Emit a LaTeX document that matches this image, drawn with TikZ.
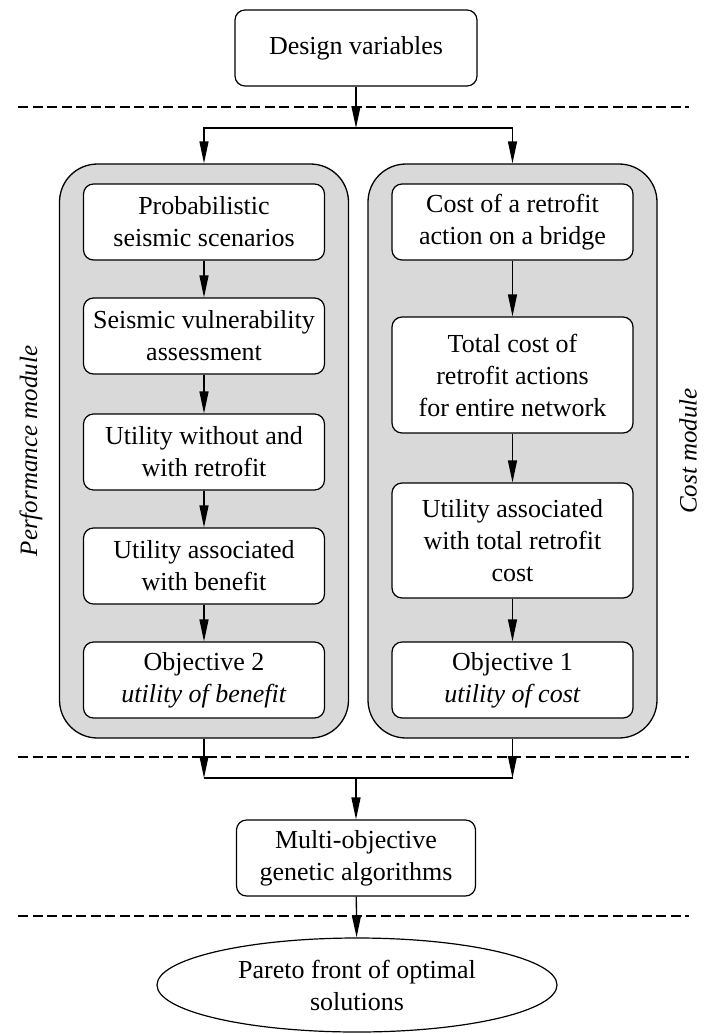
\documentclass[tikz,border=0pt]{standalone}
\usepackage{fontspec}
\setmainfont{Liberation Serif}
\usetikzlibrary{arrows.meta}
\usetikzlibrary{positioning,shapes.geometric}
\definecolor{modgray}{RGB}{217,217,217}

\begin{document}
\begin{tikzpicture}[
		x=1pt, y=-1pt,
		->,
		>={Triangle[length=22pt,width=9pt]},
		line width=1.3pt,
		font=\fontsize{26}{32}\selectfont,
		step box/.style={
			draw,
			fill=white,
			rounded corners=10pt,
			align=center,
			inner sep=0pt,
			line width=1.2pt,
			minimum width=241pt,
			minimum height=76pt
		},
		module box/.style={
			draw,
			fill=modgray,
			rounded corners=38pt,
			minimum width=289pt,
			minimum height=574pt
		},
		side label/.style={rotate=90, font=\fontsize{25}{30}\selectfont\itshape},
		sep line/.style={-, dash pattern=on 10pt off 4.5pt}
		]
		\useasboundingbox (0,0) rectangle (705,1034);
		
		\draw[sep line] (18,107) -- (689,107);
		\draw[sep line] (18,757) -- (689,757);
		\draw[sep line] (18,916) -- (689,916);
		
		\node[module box] (perf) at (204,451) {};
		\node[module box] (cost) at (512.5,451) {};
		
		\node[step box, minimum width=242pt] (dv) at (356,48) {Design variables};
		
		\node[step box] (p1) at (204,222) {Probabilistic\\seismic scenarios};
		\node[step box] (p2) at (204,336) {Seismic vulnerability\\assessment};
		\node[step box] (p3) at (204,452) {Utility without and\\with retrofit};
		\node[step box] (p4) at (204,566) {Utility associated\\with benefit};
		\node[step box] (p5) at (204,680) {Objective 2\\\textit{utility of benefit}};
		
		\node[step box] (c1) at (512.5,222) {Cost of a retrofit\\action on a bridge};
		\node[step box, minimum height=116pt] (c2) at (512.5,375) {Total cost of\\retrofit actions\\for entire network};
		\node[step box, minimum height=115pt] (c3) at (512.5,540.5) {Utility associated\\with total retrofit\\cost};
		\node[step box] (c4) at (512.5,680) {Objective 1\\\textit{utility of cost}};
		
		\node[step box, minimum width=239pt] (moga) at (356,858) {Multi-objective\\genetic algorithms};
		\node[draw, ellipse, align=center, inner sep=0pt, line width=1.2pt, minimum width=400pt, minimum height=94pt] (pf) at (357,985) {Pareto front of optimal\\solutions};
		
		\node[side label] (perflabel) at (31,451) {Performance module};
		\node[side label] (costlabel) at (688,451) {Cost module};
		
		\coordinate (split) at (356,128);
		\coordinate (merge) at (356,778);
		
		\draw (dv) -- (split);
		\draw (split) -| (perf);
		\draw (split) -| (cost);
		
		\path
		(p1) edge (p2)
		(p2) edge (p3)
		(p3) edge (p4)
		(p4) edge (p5)
		(c1) edge (c2)
		(c2) edge (c3)
		(c3) edge (c4);
		
		\draw (perf) -- (perf |- merge);
		\draw (cost) -- (cost |- merge);
		\draw[-] (perf |- merge) -- (cost |- merge);
		\draw (merge) -- (moga);
		\draw (moga) -- (pf);
	\end{tikzpicture}
\end{document}
